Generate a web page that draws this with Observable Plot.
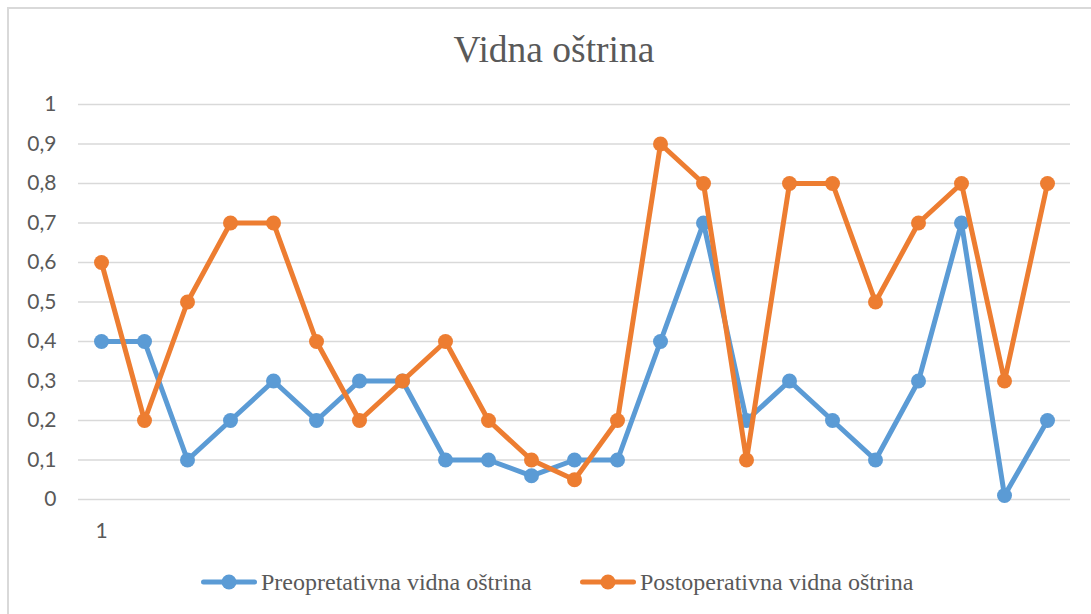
<!DOCTYPE html>
<html>
<head>
<meta charset="utf-8">
<script src="https://cdn.jsdelivr.net/npm/d3@7"></script>
<script src="https://cdn.jsdelivr.net/npm/@observablehq/plot@0.6"></script>
<style>
  html, body { margin: 0; padding: 0; background: #fff; width: 1091px; height: 614px; overflow: hidden; }
  #frame { position: absolute; left: 7px; top: 7px; width: 1200px; height: 700px; border-left: 2px solid #d9d9d9; border-top: 2px solid #d9d9d9; box-sizing: border-box; }
  #title { position: absolute; left: 8px; top: 31px; width: 1092px; text-align: center; font-family: "Liberation Serif", "DejaVu Serif", serif; font-size: 37.5px; line-height: 37px; color: #595959; }
  #chart { position: absolute; left: 0; top: 80px; }
  .leg { position: absolute; top: 570px; height: 24px; display: flex; align-items: center; font-family: "Liberation Serif", serif; font-size: 24px; line-height: 24px; color: #595959; white-space: nowrap; }
  .leg svg { margin-right: 4px; }
</style>
</head>
<body>
<div id="frame"></div>
<div id="title">Vidna oštrina</div>
<div id="chart"></div>
<div class="leg" id="leg1"></div>
<div class="leg" id="leg2"></div>
<script>
const categories = d3.range(1, 24);
const seriesNames = ["Preopretativna vidna oštrina", "Postoperativna vidna oštrina"];
const seriesColors = ["#5b9bd5", "#ed7d31"];
const preValues  = [0.4, 0.4, 0.1, 0.2, 0.3, 0.2, 0.3, 0.3, 0.1, 0.1, 0.06, 0.1, 0.1, 0.4, 0.7, 0.2, 0.3, 0.2, 0.1, 0.3, 0.7, 0.01, 0.2];
const postValues = [0.6, 0.2, 0.5, 0.7, 0.7, 0.4, 0.2, 0.3, 0.4, 0.2, 0.1, 0.05, 0.2, 0.9, 0.8, 0.1, 0.8, 0.8, 0.5, 0.7, 0.8, 0.3, 0.8];
const yTicks = [0, 0.1, 0.2, 0.3, 0.4, 0.5, 0.6, 0.7, 0.8, 0.9, 1];
const xTickLabels = [1];

const pre = categories.map((c, i) => ({x: c, y: preValues[i]}));
const post = categories.map((c, i) => ({x: c, y: postValues[i]}));
const fmt = d => String(d).replace(".", ",");

const plot = Plot.plot({
  width: 1091,
  height: 470,
  marginLeft: 78,
  marginRight: 21,
  marginTop: 24,
  marginBottom: 51,
  style: { fontFamily: "Lato, 'Open Sans', sans-serif", fontSize: "21px", color: "#595959", background: "transparent", overflow: "visible" },
  x: { type: "point", domain: categories, padding: 0, insetLeft: 21, insetRight: 22, label: null },
  y: { domain: [0, 1], label: null },
  marks: [
    Plot.gridY(yTicks, { stroke: "#d9d9d9", strokeOpacity: 1, strokeWidth: 1.5 }),
    Plot.axisY(yTicks, { tickSize: 0, tickPadding: 22, tickFormat: fmt, fill: "#595959", fontSize: 21 }),
    Plot.axisX(xTickLabels, { tickSize: 0, tickPadding: 24, fill: "#595959", fontSize: 21 }),
    Plot.line(pre, { x: "x", y: "y", stroke: seriesColors[0], strokeWidth: 5, strokeLinejoin: "round", strokeLinecap: "round" }),
    Plot.dot(pre, { x: "x", y: "y", r: 7.5, fill: seriesColors[0], stroke: "none" }),
    Plot.line(post, { x: "x", y: "y", stroke: seriesColors[1], strokeWidth: 5, strokeLinejoin: "round", strokeLinecap: "round" }),
    Plot.dot(post, { x: "x", y: "y", r: 7.5, fill: seriesColors[1], stroke: "none" })
  ]
});
document.getElementById("chart").appendChild(plot);

const legLefts = [201, 580];
["leg1", "leg2"].forEach((id, i) => {
  const el = document.getElementById(id);
  el.style.left = legLefts[i] + "px";
  el.innerHTML = `<svg width="56" height="20" viewBox="0 0 56 20"><line x1="2.5" y1="10" x2="53.5" y2="10" stroke="${seriesColors[i]}" stroke-width="5" stroke-linecap="round"/><circle cx="28" cy="10" r="7.5" fill="${seriesColors[i]}"/></svg><span>${seriesNames[i]}</span>`;
});
</script>
</body>
</html>
